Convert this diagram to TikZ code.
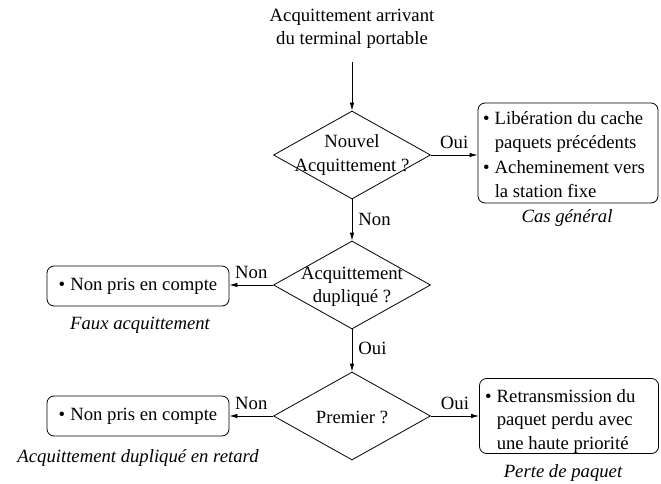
\documentclass[tikz,border=0pt]{standalone}
\usepackage{fontspec}
\setmainfont{Liberation Serif}
\usetikzlibrary{shapes.geometric,arrows.meta}
\begin{document}
\begin{tikzpicture}[x=1pt,y=-1pt,
  font=\fontsize{18.7}{23.5}\selectfont,
  every node/.style={inner sep=0pt},
  decision/.style={diamond,draw,line width=0.8pt,minimum width=157pt,minimum height=88pt,inner sep=0pt},
  outcome/.style={draw,line width=0.8pt,rounded corners=7pt},
  arr/.style={line width=0.8pt,-{Latex[length=8pt,width=4.5pt]}},
  caption/.style={font=\fontsize{18.7}{23.5}\selectfont\itshape},
  lbl/.style={font=\fontsize{18.7}{23.5}\selectfont}
]
\useasboundingbox (0,0) rectangle (661,484);

% entry text and starting point of the flow
\node[align=center] (title) at (352,29) {Acquittement arrivant\\du terminal portable};
\coordinate (start) at (352,62);

% decisions
\node[decision] (d1) at (352,155) {};
\node[align=center] (t1) at (352,155) {Nouvel\\Acquittement ?};
\node[decision] (d2) at (352,285) {};
\node[align=center] (t2) at (352,287) {Acquittement\\dupliqué ?};
\node[decision] (d3) at (352,416) {};
\node (t3) at (352,417) {Premier ?};

% outcomes
\node[outcome,minimum width=180pt,minimum height=100pt] (b1) at (568,153) {};
\node[anchor=west] (b1t) at (483,156) {\renewcommand{\arraystretch}{1.04}\begin{tabular}{@{}l@{\hspace{5pt}}l@{}}\textbullet & Libération du cache\\ & paquets précédents\\ \textbullet & Acheminement vers\\ & la station fixe\end{tabular}};
\node[caption] (c1) at (567,218) {Cas général};

\node[outcome,minimum width=182pt,minimum height=40pt] (b2) at (138,286) {};
\node (b2t) at (138,286) {\textbullet\hspace{5pt}Non pris en compte};
\node[caption] (c2) at (140,325) {Faux acquittement};

\node[outcome,minimum width=182pt,minimum height=40pt] (b3) at (138,416) {};
\node (b3t) at (138,416) {\textbullet\hspace{5pt}Non pris en compte};
\node[caption] (c3) at (138,458) {Acquittement dupliqué en retard};

\node[outcome,minimum width=179pt,minimum height=75pt] (b4) at (569,416) {};
\node[anchor=west] (b4t) at (485,421) {\begin{tabular}{@{}l@{\hspace{5pt}}l@{}}\textbullet & Retransmission du\\ & paquet perdu avec\\ & une haute priorité\end{tabular}};
\node[caption] (c4) at (563,473) {Perte de paquet};

% connectors
\draw[arr] (start) -- (d1.north);
\draw[arr] (d1.east) -- node[lbl,above=6pt] {Oui} (b1.west |- d1.east);
\draw[arr] (d1.south) -- node[lbl,right=6pt,yshift=1pt] {Non} (d2.north);
\draw[arr] (d2.west) -- node[lbl,above=6pt] {Non} (b2.east |- d2.west);
\draw[arr] (d2.south) -- node[lbl,right=6pt,yshift=2pt] {Oui} (d3.north);
\draw[arr] (d3.west) -- node[lbl,above=6pt] {Non} (b3.east |- d3.west);
\draw[arr] (d3.east) -- node[lbl,above=6pt] {Oui} (b4.west |- d3.east);
\end{tikzpicture}
\end{document}
